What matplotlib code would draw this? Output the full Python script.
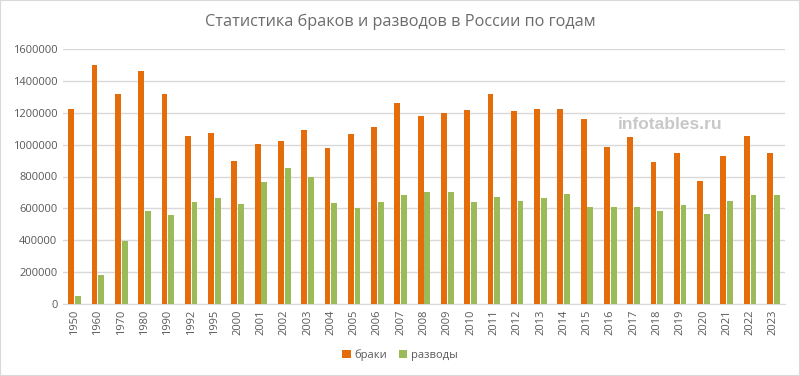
import matplotlib
matplotlib.use("Agg")
import matplotlib.pyplot as plt
import numpy as np
from matplotlib.patches import Rectangle

years = ["1950", "1960", "1970", "1980", "1990", "1992", "1995", "2000", "2001", "2002",
         "2003", "2004", "2005", "2006", "2007", "2008", "2009", "2010", "2011", "2012",
         "2013", "2014", "2015", "2016", "2017", "2018", "2019", "2020", "2021", "2022", "2023"]
braki = [1222000, 1499000, 1319000, 1465000, 1320000, 1054000, 1075000, 897000, 1001000, 1020000,
         1092000, 979000, 1066000, 1113000, 1262000, 1179000, 1200000, 1215000, 1316000, 1213000,
         1225000, 1226000, 1161000, 985000, 1050000, 893000, 950000, 771000, 929000, 1053000, 946000]
razvody = [53000, 184000, 397000, 581000, 560000, 640000, 666000, 627000, 763000, 854000,
           798000, 635000, 605000, 640000, 685000, 703000, 700000, 639000, 669000, 644000,
           668000, 693000, 611000, 608000, 611000, 584000, 621000, 564000, 644000, 682000, 682000]
yticks = [0, 200000, 400000, 600000, 800000, 1000000, 1200000, 1400000, 1600000]

plt.rcParams['font.family'] = ['Open Sans', 'DejaVu Sans']
grey = '#595959'
orange = '#E46C0A'
green = '#9BBB59'

fig = plt.figure(figsize=(8, 3.76), dpi=100)
ax = fig.add_axes([63/800, 1 - 304/376, 722/800, 255/376])

x = np.arange(len(years))
w = 0.25
ax.bar(x - 0.145, braki, width=w, color=orange, label='браки', zorder=3)
ax.bar(x + 0.145, razvody, width=w, color=green, label='разводы', zorder=3)

ax.set_xlim(-0.5, len(years) - 0.5)
ax.set_ylim(0, 1600000)
ax.set_yticks(yticks)
ax.set_yticklabels([str(v) for v in yticks], fontsize=8, color=grey)
ax.set_xticks(x)
ax.set_xticklabels(years, rotation=90, fontsize=8, color=grey)
ax.tick_params(axis='both', length=0, pad=4)
ax.grid(axis='y', color='#d9d9d9', linewidth=1, zorder=0)
for s in ['top', 'right', 'left']:
    ax.spines[s].set_visible(False)
ax.spines['bottom'].set_color('#d9d9d9')

fig.text(0.5, 1 - 22/376, 'Статистика браков и разводов в России по годам',
         ha='center', va='center', fontsize=11.7, color='#6b6b6b')
fig.text(670/800, 1 - 125/376, 'infotables.ru', ha='center', va='center',
         fontsize=12.5, fontweight='bold', color='#c8c8c8', family=['Liberation Sans', 'DejaVu Sans'])

leg = fig.legend(loc='center', bbox_to_anchor=(0.5, 1 - 355/376), ncol=2, frameon=False,
                 fontsize=8, handlelength=0.8, handleheight=0.8, handletextpad=0.3,
                 columnspacing=1.0, labelcolor=grey)

fig.patches.append(Rectangle((0, 0), 1, 1, transform=fig.transFigure, fill=False,
                             edgecolor='#d9d9d9', linewidth=1.5))
fig.savefig('out.png', dpi=100)
